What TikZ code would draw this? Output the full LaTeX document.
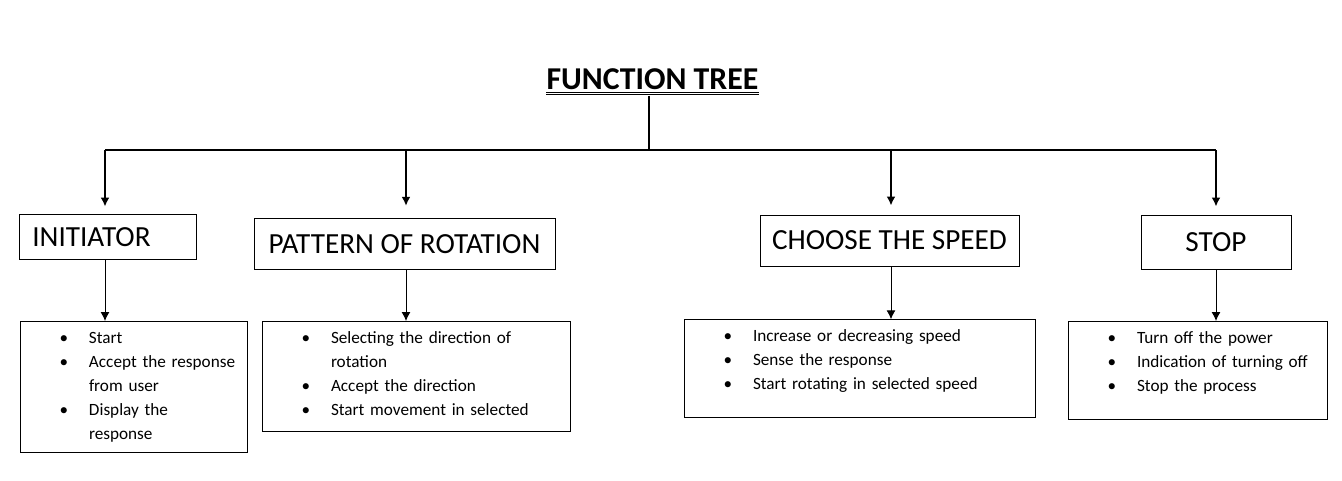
\documentclass[tikz,border=0pt]{standalone}
\usepackage{fontspec}
\setmainfont{Carlito}
\usetikzlibrary{arrows.meta}
\setlength{\parindent}{0pt}
\newcommand{\itm}[1]{\mbox{\makebox[29.5pt][l]{\textbullet}#1}}
\newcommand{\cnt}[1]{\mbox{\hspace*{29.5pt}#1}}

\begin{document}
\begin{tikzpicture}[x=1pt, y=-1pt,
  titletext/.style={font=\fontsize{31.8}{36}\selectfont\bfseries, inner sep=0pt, anchor=base, text depth=6.5pt},
  headbox/.style={draw, line width=1pt, font=\fontsize{29.2}{34}\selectfont, inner xsep=0pt},
  listbox/.style={draw, line width=1pt, anchor=north west, inner xsep=39pt, inner ysep=0pt, align=left, font=\fontsize{17.2}{24}\selectfont},
  busline/.style={line width=2pt},
  thinline/.style={line width=1pt},
  tip/.style={-{Latex[length=9pt,width=9pt]}}]
\useasboundingbox (0,0) rectangle (1342,480);
\path (652.5,89) node (title) [titletext] {FUNCTION TREE};
\draw[line width=0.9pt] ([yshift=-3.3pt]title.base west) -- ([yshift=-3.3pt]title.base east);
\draw[line width=0.9pt] ([yshift=-5.8pt]title.base west) -- ([yshift=-5.8pt]title.base east);
\coordinate (hub) at (649,150);
\coordinate (bus1) at (105,150);
\coordinate (bus2) at (406,150);
\coordinate (bus3) at (891,150);
\coordinate (bus4) at (1216,150);
% headings
\path (108.3,236.7) node (init) [headbox, minimum width=176.7, minimum height=45.3, text width=152pt, align=left, inner xsep=12pt] {INITIATOR};
\path (404.5,243.8) node (pattern) [headbox, minimum width=301, minimum height=51] {PATTERN OF ROTATION};
\path (889.5,240.5) node (speed) [headbox, minimum width=259, minimum height=51] {CHOOSE THE SPEED};
\path (1216,242) node (stop) [headbox, minimum width=150, minimum height=54] {STOP};
% lists
\path (20,321) node (initlist) [listbox, text width=149.3pt] {\rule{0pt}{22.3pt}\itm{Start}\\ \itm{Accept the response}\\ \cnt{from user}\\ \itm{Display the}\\ \cnt{response}\rule[-12.4pt]{0pt}{12.4pt}};
\path (262,321) node (patternlist) [listbox, text width=230pt] {\rule{0pt}{22.3pt}\itm{Selecting the direction of}\\ \cnt{rotation}\\ \itm{Accept the direction}\\ \itm{Start movement in selected}\rule[-15.7pt]{0pt}{15.7pt}};
\path (684,319.3) node (speedlist) [listbox, text width=273pt] {\rule{0pt}{21.7pt}\itm{Increase or decreasing speed}\\ \itm{Sense the response}\\ \itm{Start rotating in selected speed}\rule[-28.3pt]{0pt}{28.3pt}};
\path (1068,321) node (stoplist) [listbox, text width=181pt] {\rule{0pt}{22pt}\itm{Turn off the power}\\ \itm{Indication of turning off}\\ \itm{Stop the process}\rule[-28pt]{0pt}{28pt}};
% tree
\draw[busline] (title.south -| hub) -- (hub);
\draw[busline] (bus1) -- (bus4);
\draw[busline, tip, shorten >=7pt] (bus1) -- (init.north -| bus1);
\draw[busline, tip, shorten >=12pt] (bus2) -- (pattern.north -| bus2);
\draw[busline, tip, shorten >=9pt] (bus3) -- (speed.north -| bus3);
\draw[busline, tip, shorten >=8pt] (bus4) -- (stop.north -| bus4);
\draw[thinline, tip] (init.south -| bus1) -- (initlist.north -| bus1);
\draw[thinline, tip] (pattern.south -| bus2) -- (patternlist.north -| bus2);
\draw[thinline, tip] (speed.south -| bus3) -- (speedlist.north -| bus3);
\draw[thinline, tip] (stop.south -| bus4) -- (stoplist.north -| bus4);
\end{tikzpicture}
\end{document}
